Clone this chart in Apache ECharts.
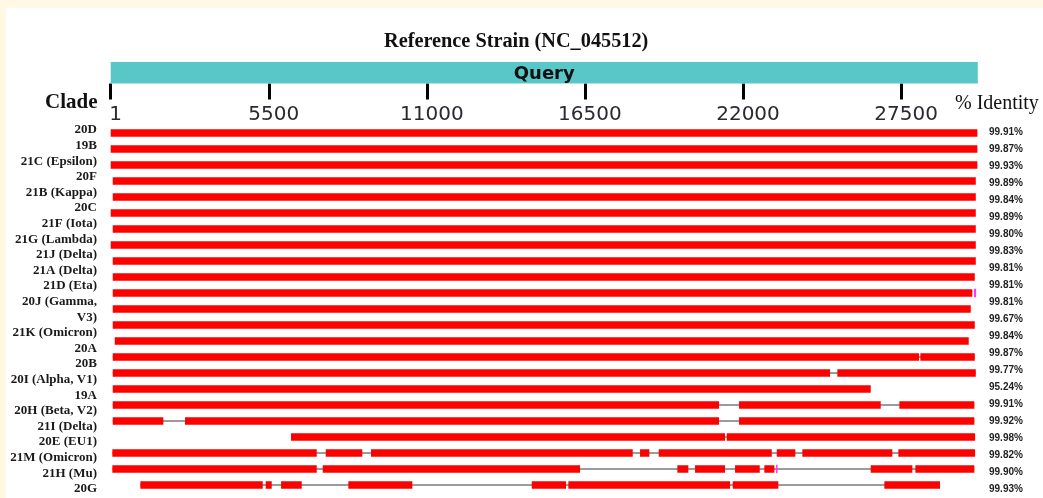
<!DOCTYPE html>
<html><head><meta charset="utf-8">
<script src="https://cdn.jsdelivr.net/npm/echarts@6/dist/echarts.min.js"></script>
<style>html,body{margin:0;padding:0;background:#FFF8E5;}#c{width:1043px;height:498px;}</style>
</head><body><div id="c"></div>
<script>
// ---------- data ----------
const chartTitle = "Reference Strain (NC_045512)";
const queryLabel = "Query";
const clades = ["20D","19B","21C (Epsilon)","20F","21B (Kappa)","20C","21F (Iota)","21G (Lambda)",
  "21J (Delta)","21A (Delta)","21D (Eta)","20J (Gamma,\nV3)","21K (Omicron)","20A","20B",
  "20I (Alpha, V1)","19A","20H (Beta, V2)","21I (Delta)","20E (EU1)","21M (Omicron)","21H (Mu)","20G"];
const identity = ["99.91%","99.87%","99.93%","99.89%","99.84%","99.89%","99.80%","99.83%","99.81%",
  "99.81%","99.81%","99.67%","99.84%","99.87%","99.77%","95.24%","99.91%","99.92%","99.98%",
  "99.82%","99.90%","99.93%"];
const tickValues = [1, 5500, 11000, 16500, 22000, 27500];
const genomeMax = 30170;
// aligned blocks per row [start, end] (bp)
const alignments = [
  [[1,30155]],
  [[1,30155]],
  [[1,30155]],
  [[71,30100]],
  [[71,30100]],
  [[1,30100]],
  [[71,30100]],
  [[1,30100]],
  [[71,30100]],
  [[71,30065]],
  [[71,29980]],
  [[71,29925]],
  [[71,30065]],
  [[141,29855]],
  [[71,28125],[28171,30065]],
  [[71,25029],[25283,30100]],
  [[71,26445]],
  [[71,21167],[21863,26793],[27440,30050]],
  [[71,1831],[2586,21167],[21863,30050]],
  [[6275,21375],[21435,30075]],
  [[57,7169],[7482,8755],[9058,18164],[18418,18742],[19069,23001],[23175,23822],[24065,27197],[27405,30075]],
  [[57,7169],[7378,16331],[19716,20099],[20332,21375],[21724,22583],[22743,23091],[26445,27893],[27997,30050]],
  [[1031,5290],[5394,5603],[5927,6647],[8268,10495],[14650,15843],[15923,21550],[21643,23230],[26918,28856]]
];
// insertion marks [row, start, end]
const insertions = [[10, 30040, 30110], [21, 23150, 23200]];

// ---------- derived ----------
const rowNames = alignments.map((_, i) => String(i));
const blockData = [];
const gapData = [];
alignments.forEach((segs, r) => {
  segs.forEach(s => blockData.push([r, s[0], s[1]]));
  if (segs.length > 1) gapData.push([r, segs[0][0], segs[segs.length - 1][1]]);
});
const labelLines = [];
clades.forEach(c => c.split("\n").forEach(l => labelLines.push(l)));

const GL = 110.7, GW = 867.1;
const chart = echarts.init(document.getElementById('c'));
chart.setOption({
  backgroundColor: '#FFF8E5',
  animation: false,
  graphic: [{type: 'rect', z: -100, left: 6, top: 8, shape: {width: 1037, height: 490}, style: {fill: '#ffffff'}}],
  title: [
    {text: chartTitle, left: 384, top: 32, padding: 0,
     textStyle: {fontFamily: 'Liberation Serif', fontWeight: 'bold', fontSize: 20.3, color: '#111'}},
    {text: 'Clade', left: 45, top: 92, padding: 0,
     textStyle: {fontFamily: 'Liberation Serif', fontWeight: 'bold', fontSize: 21, color: '#111'}},
    {text: '% Identity', left: 955, top: 94, padding: 0,
     textStyle: {fontFamily: 'Liberation Serif', fontWeight: 'normal', fontSize: 20, color: '#111'}}
  ],
  grid: [
    {left: GL, width: GW, top: 125, height: 368},
    {left: GL, width: GW, top: 62, height: 21.5},
    {left: 100, width: 1, top: 122.2, height: 374.4},
    {left: 979, width: 1, top: 124.2, height: 374.3}
  ],
  xAxis: [
    {gridIndex: 0, type: 'value', min: 0, max: genomeMax, show: false},
    {gridIndex: 1, type: 'value', min: 0, max: genomeMax, position: 'bottom',
     axisLine: {show: false}, splitLine: {show: false},
     axisTick: {show: true, customValues: tickValues, length: 16, lineStyle: {color: '#000', width: 3}},
     axisLabel: {show: true, customValues: tickValues, margin: 21, formatter: v => String(v),
       padding: [0, 0, 0, 10],
       fontFamily: 'DejaVu Sans', fontSize: 20, color: '#2a2a30'}},
    {gridIndex: 2, type: 'value', show: false},
    {gridIndex: 3, type: 'value', show: false}
  ],
  yAxis: [
    {gridIndex: 0, type: 'category', data: rowNames, inverse: true, show: false},
    {gridIndex: 1, type: 'category', data: [queryLabel], show: false},
    {gridIndex: 2, type: 'category', data: labelLines, inverse: true,
     axisLine: {show: false}, axisTick: {show: false},
     axisLabel: {interval: 0, margin: 3, fontFamily: 'Liberation Serif', fontWeight: 'bold', fontSize: 13, color: '#1a1a1a'}},
    {gridIndex: 3, type: 'category', data: identity, inverse: true, position: 'right',
     axisLine: {show: false}, axisTick: {show: false},
     axisLabel: {interval: 0, margin: 9, fontFamily: 'Liberation Sans', fontWeight: 'bold', fontSize: 10, color: '#222'}}
  ],
  series: [
    {type: 'bar', xAxisIndex: 1, yAxisIndex: 1, data: [genomeMax], barWidth: '100%',
     itemStyle: {color: '#59C7C7'},
     label: {show: true, position: 'inside', formatter: queryLabel, offset: [0, 1.5],
       fontFamily: 'DejaVu Sans', fontWeight: 'bold', fontSize: 18, color: '#111'}},
    {type: 'custom', xAxisIndex: 0, yAxisIndex: 0, data: gapData, z: 1,
     encode: {x: [1, 2], y: 0},
     renderItem: (params, api) => {
       const r = api.value(0);
       const a = api.coord([api.value(1), r]), b = api.coord([api.value(2), r]);
       return {type: 'line', shape: {x1: a[0], y1: a[1], x2: b[0], y2: b[1]},
         style: {stroke: '#7a7a7a', lineWidth: 1.6}};
     }},
    {type: 'custom', xAxisIndex: 0, yAxisIndex: 0, data: blockData, z: 2,
     encode: {x: [1, 2], y: 0},
     renderItem: (params, api) => {
       const r = api.value(0);
       const a = api.coord([api.value(1), r]), b = api.coord([api.value(2), r]);
       const h = 7.5;
       return {type: 'rect', shape: {x: a[0], y: a[1] - h / 2, width: b[0] - a[0], height: h},
         style: {fill: '#ff0000'}};
     }},
    {type: 'custom', xAxisIndex: 0, yAxisIndex: 0, data: insertions, z: 3,
     encode: {x: [1, 2], y: 0},
     renderItem: (params, api) => {
       const r = api.value(0);
       const a = api.coord([api.value(1), r]), b = api.coord([api.value(2), r]);
       const h = 8.5;
       return {type: 'rect', shape: {x: a[0], y: a[1] - h / 2, width: Math.max(1.5, b[0] - a[0]), height: h},
         style: {fill: '#ff33ff'}};
     }}
  ]
});
</script></body></html>
